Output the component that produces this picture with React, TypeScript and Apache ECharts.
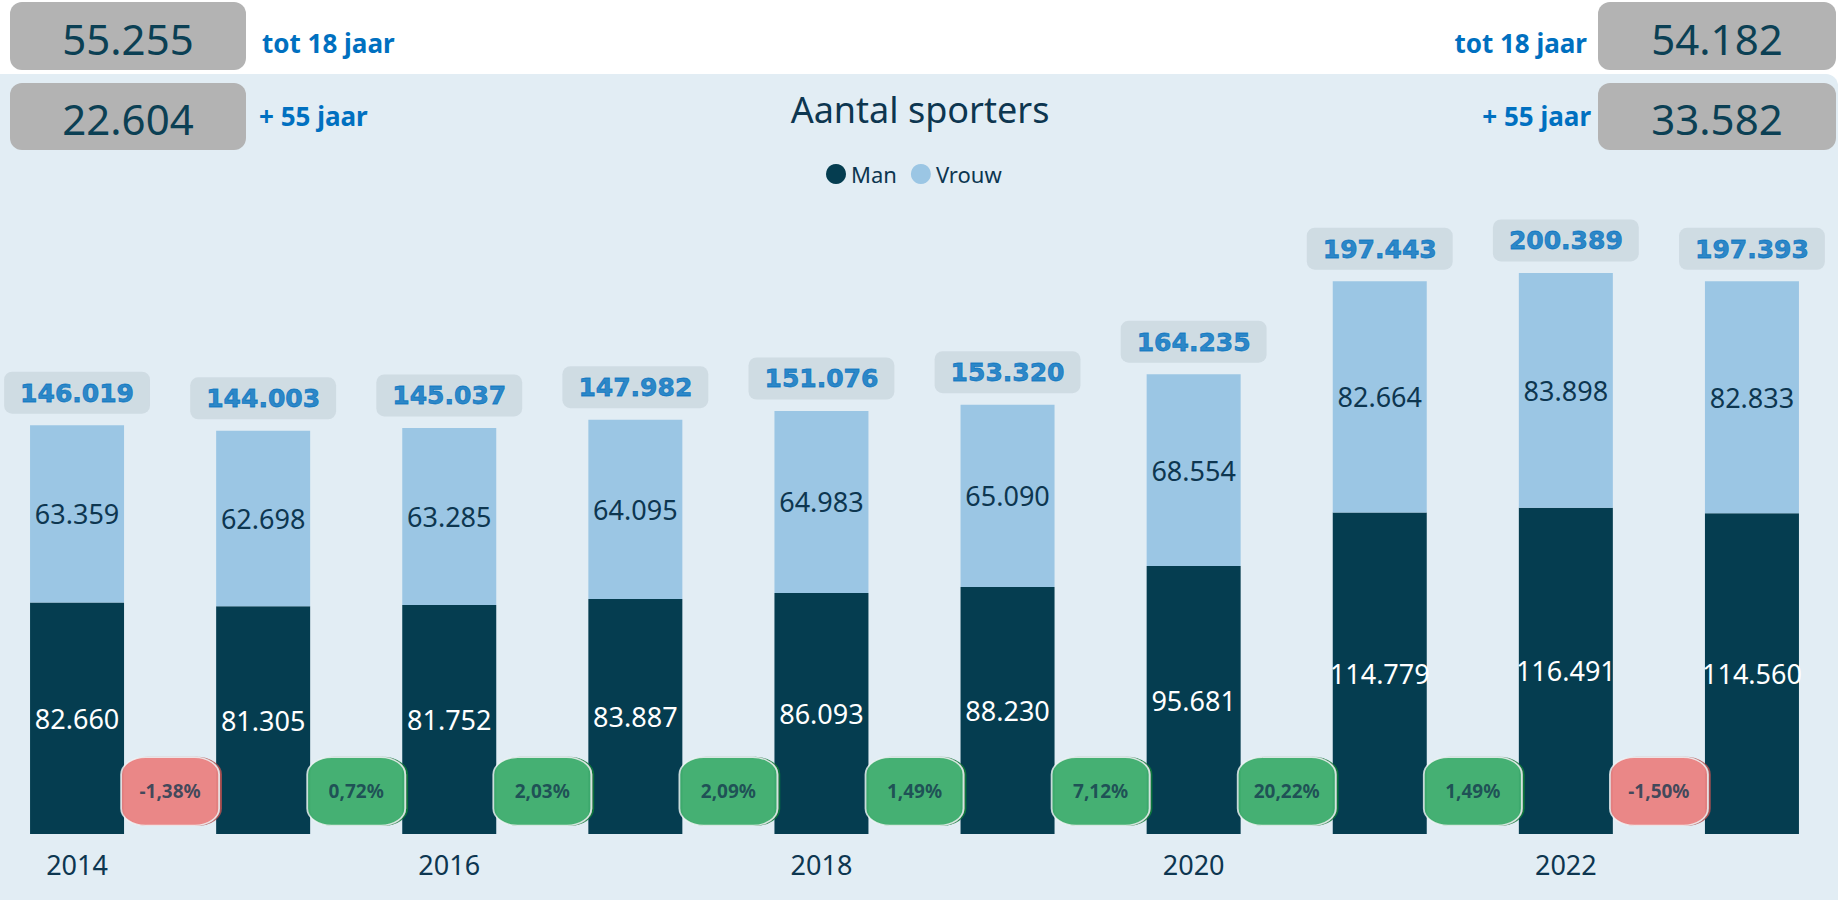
import React, { useEffect, useRef } from "react";
import * as echarts from "echarts";

// ---- data ----
const years = ["2014", "2015", "2016", "2017", "2018", "2019", "2020", "2021", "2022", "2023"];
const man = [82660, 81305, 81752, 83887, 86093, 88230, 95681, 114779, 116491, 114560];
const vrouw = [63359, 62698, 63285, 64095, 64983, 65090, 68554, 82664, 83898, 82833];
const totals = [146019, 144003, 145037, 147982, 151076, 153320, 164235, 197443, 200389, 197393];
const changes = [-1.38, 0.72, 2.03, 2.09, 1.49, 7.12, 20.22, 1.49, -1.5];
const kpiLabels = ["tot 18 jaar", "+ 55 jaar"];
const kpiLeftValues = [55255, 22604];
const kpiRightValues = [54182, 33582];

const fmtInt = (v: number) => String(Math.round(v)).replace(/\B(?=(\d{3})+(?!\d))/g, ".");
const fmtPct = (v: number) => v.toFixed(2).replace(".", ",") + "%";

const DARK = "#053D50";
const LIGHT = "#9BC6E4";
const TEXT_DARK = "#0D3650";
const BLUE = "#0070C0";
const PANEL = "#E2EDF4";
const RED = "#F4898A";
const GREEN = "#45B574";
const FONT = "'Noto Sans', sans-serif";

export default function App() {
  const ref = useRef<HTMLDivElement>(null);

  useEffect(() => {
    document.body.style.margin = "0";
    if (!ref.current) return;
    const chart = echarts.init(ref.current, undefined, { renderer: "svg" });

    const boxGraphics: any[] = [];
    // background panel
    boxGraphics.push({
      type: "rect",
      z: -10,
      shape: { x: 0, y: 74, width: 1838, height: 840, r: [0, 12, 0, 0] },
      style: { fill: PANEL },
    });
    const boxY = [2, 83];
    const boxH = [68, 67];
    const labelY = [43, 116];
    kpiLabels.forEach((lab, i) => {
      // left
      boxGraphics.push({
        type: "rect",
        shape: { x: 10, y: boxY[i], width: 236, height: boxH[i], r: 12 },
        style: { fill: "#B3B3B3" },
      });
      boxGraphics.push({
        type: "text",
        x: 128,
        y: boxY[i] + boxH[i] / 2 + 2,
        style: {
          text: fmtInt(kpiLeftValues[i]),
          fill: "#0B4054",
          font: `42px ${FONT}`,
          align: "center",
          verticalAlign: "middle",
        },
      });
      boxGraphics.push({
        type: "text",
        x: i === 0 ? 262 : 259,
        y: labelY[i],
        style: {
          text: lab,
          fill: BLUE,
          font: `bold 26px ${FONT}`,
          align: "left",
          verticalAlign: "middle",
        },
      });
      // right
      boxGraphics.push({
        type: "rect",
        shape: { x: 1598, y: boxY[i], width: 238, height: boxH[i], r: 12 },
        style: { fill: "#B3B3B3" },
      });
      boxGraphics.push({
        type: "text",
        x: 1717,
        y: boxY[i] + boxH[i] / 2 + 2,
        style: {
          text: fmtInt(kpiRightValues[i]),
          fill: "#0B4054",
          font: `42px ${FONT}`,
          align: "center",
          verticalAlign: "middle",
        },
      });
      boxGraphics.push({
        type: "text",
        x: i === 0 ? 1587 : 1591,
        y: labelY[i],
        style: {
          text: lab,
          fill: BLUE,
          font: `bold 26px ${FONT}`,
          align: "right",
          verticalAlign: "middle",
        },
      });
    });

    const option: any = {
      animation: false,
      backgroundColor: "#FFFFFF",
      title: {
        text: "Aantal sporters",
        left: "center",
        top: 86,
        textStyle: { color: TEXT_DARK, fontSize: 36, fontWeight: "normal", fontFamily: FONT },
      },
      legend: {
        data: ["Man", "Vrouw"],
        left: 821,
        top: 158,
        icon: "circle",
        itemWidth: 20,
        itemHeight: 20,
        itemGap: 14,
        textStyle: { color: TEXT_DARK, fontSize: 22, fontFamily: FONT },
      },
      graphic: boxGraphics,
      grid: {
        left: -16,
        right: -5,
        top: 134,
        bottom: 66,
        containLabel: false,
        outerBoundsMode: "none",
      },
      xAxis: [
        {
          type: "category",
          data: years,
          axisLine: { show: false },
          axisTick: { show: false },
          axisLabel: {
            interval: 1,
            color: TEXT_DARK,
            fontSize: 27,
            fontFamily: FONT,
            margin: 17,
          },
        },
        { type: "value", min: -0.5, max: 9.5, show: false },
      ],
      yAxis: { type: "value", min: 0, max: 250000, show: false },
      series: [
        {
          name: "Man",
          type: "bar",
          stack: "total",
          barWidth: 94,
          data: man,
          itemStyle: { color: DARK },
          label: {
            show: true,
            position: "inside",
            color: "#FFFFFF",
            fontSize: 27,
            fontFamily: FONT,
            formatter: (p: any) => fmtInt(p.value),
          },
        },
        {
          name: "Vrouw",
          type: "bar",
          stack: "total",
          barWidth: 94,
          data: vrouw,
          itemStyle: { color: LIGHT },
          label: {
            show: true,
            position: "inside",
            color: TEXT_DARK,
            fontSize: 27,
            fontFamily: FONT,
            formatter: (p: any) => fmtInt(p.value),
          },
        },
        {
          name: "Totaal",
          type: "scatter",
          data: totals,
          symbolSize: 1,
          itemStyle: { color: "rgba(0,0,0,0)" },
          silent: true,
          z: 5,
          label: {
            show: true,
            position: "top",
            distance: 11,
            color: BLUE,
            fontSize: 25,
            fontWeight: 900,
            fontFamily: "'DejaVu Sans', sans-serif",
            textBorderColor: BLUE,
            textBorderWidth: 0.8,
            backgroundColor: "#CBD7DE",
            borderRadius: 8,
            padding: [9, 16, 8, 16],
            formatter: (p: any) => fmtInt(p.value),
          },
        },
        {
          name: "Verandering",
          type: "scatter",
          xAxisIndex: 1,
          symbol: "roundRect",
          symbolSize: [98, 68],
          z: 6,
          data: changes.map((c, i) => ({
            value: [i + 0.5, 15200],
            itemStyle: {
              color: c < 0 ? RED : GREEN,
              borderColor: "#F2F6F8",
              borderWidth: 1.5,
              shadowColor: c < 0 ? "#B5504F" : "#0A7D3A",
              shadowOffsetX: 2,
              shadowBlur: 0,
            },
          })),
          label: {
            show: true,
            position: "inside",
            color: "#15384F",
            fontSize: 19,
            fontWeight: "bold",
            fontFamily: FONT,
            formatter: (p: any) => fmtPct(changes[p.dataIndex]),
          },
        },
      ],
    };

    chart.setOption(option);
    return () => chart.dispose();
  }, []);

  return (
    <div
      ref={ref}
      style={{ position: "absolute", left: 0, top: 0, width: 1840, height: 900 }}
    />
  );
}
